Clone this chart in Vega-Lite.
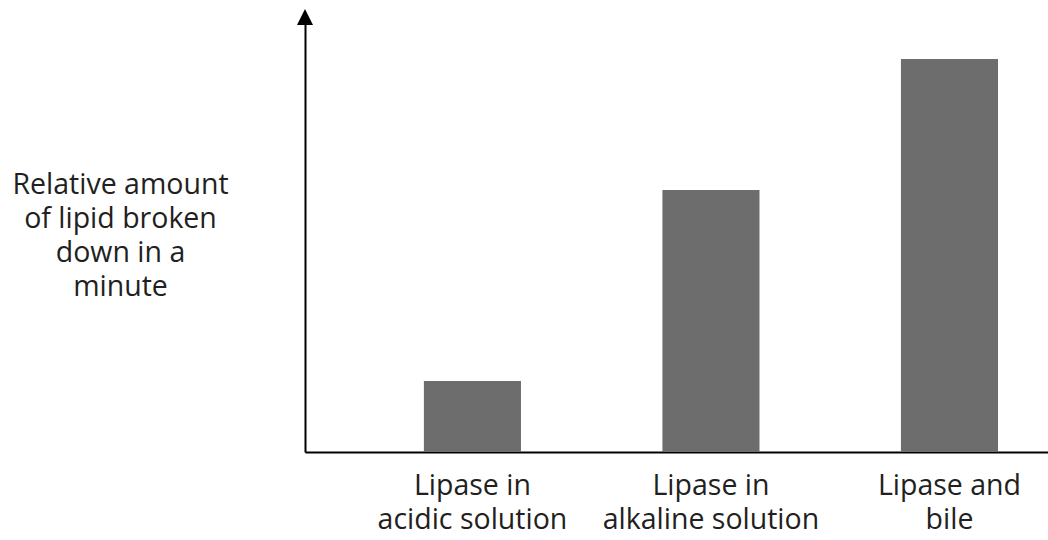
{
  "$schema": "https://vega.github.io/schema/vega-lite/v6.json",
  "width": 743,
  "height": 435,
  "autosize": {"type": "none"},
  "padding": {"left": 305, "top": 17, "right": 0, "bottom": 88},
  "background": "white",
  "config": {"view": {"stroke": null}, "font": "Open Sans"},
  "layer": [
    {
      "data": {"values": [
        {"condition": "Lipase in acidic solution", "amount": 71},
        {"condition": "Lipase in alkaline solution", "amount": 262},
        {"condition": "Lipase and bile", "amount": 393}
      ]},
      "mark": {"type": "bar", "color": "#6d6d6d"},
      "encoding": {
        "x": {
          "field": "condition", "type": "nominal", "sort": null,
          "scale": {"paddingInner": 0.593, "paddingOuter": 0.354, "align": 0.704},
          "axis": {
            "title": null, "ticks": false, "grid": false,
            "domainColor": "black", "domainWidth": 2,
            "labelAngle": 0, "labelFont": "Open Sans", "labelFontSize": 28.5,
            "labelColor": "#231f20", "labelBaseline": "alphabetic", "labelPadding": 42,
            "labelLineHeight": 34, "labelLimit": 0, "labelOverlap": false,
            "labelExpr": "datum.value == 'Lipase in acidic solution' ? ['Lipase in', 'acidic solution'] : datum.value == 'Lipase in alkaline solution' ? ['Lipase in', 'alkaline solution'] : ['Lipase and', 'bile']"
          }
        },
        "y": {
          "field": "amount", "type": "quantitative",
          "scale": {"domain": [0, 435], "nice": false, "zero": true},
          "axis": {
            "title": ["Relative amount", "of lipid broken", "down in a", "minute"],
            "titleAngle": 0, "titleAlign": "center", "titleBaseline": "alphabetic",
            "titleX": -185, "titleY": 176, "titleLineHeight": 34,
            "titleFont": "Open Sans", "titleFontSize": 28.5, "titleFontWeight": "normal",
            "titleColor": "#231f20",
            "labels": false, "ticks": false, "grid": false,
            "domainColor": "black", "domainWidth": 2
          }
        }
      }
    },
    {
      "data": {"values": [{"marker": "arrow"}]},
      "mark": {"type": "point", "shape": "M-1,1L0,-1L1,1Z", "filled": true, "color": "black", "opacity": 1, "size": 256},
      "encoding": {
        "x": {"value": 0},
        "y": {"datum": 435}
      }
    }
  ]
}
